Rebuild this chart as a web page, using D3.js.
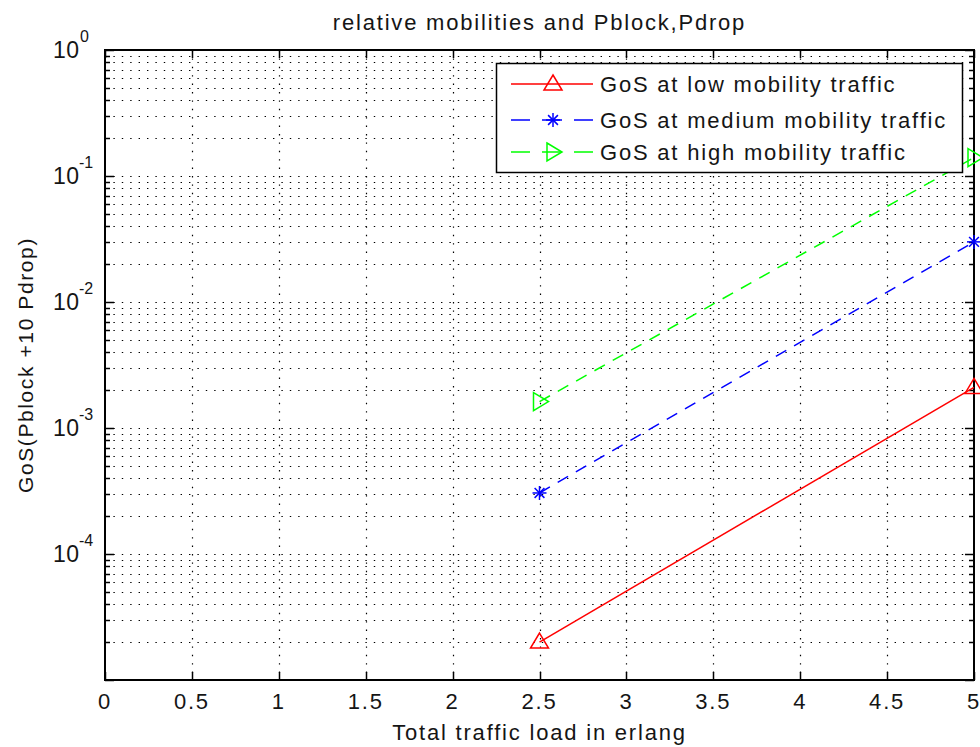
<!DOCTYPE html>
<html><head><meta charset="utf-8">
<script src="https://cdn.jsdelivr.net/npm/d3@7"></script>
<style>
body{margin:0;background:#fff;}
text{font-family:"Liberation Sans",Arial,sans-serif;fill:#151515;}
</style></head>
<body><svg id="c" width="980" height="747"></svg>
<script>
const xTicks = [0,0.5,1,1.5,2,2.5,3,3.5,4,4.5,5];
const xTickLabels = ["0","0.5","1","1.5","2","2.5","3","3.5","4","4.5","5"];
const yDecades = [-5,-4,-3,-2,-1,0];
const yTickLabels = ["","-4","-3","-2","-1","0"];
const load = [2.5, 5];
const lowMobility = [2e-5, 2.1e-3];
const mediumMobility = [3.05e-4, 3e-2];
const highMobility = [1.62e-3, 0.14];
const seriesNames = ["GoS at low mobility traffic","GoS at medium mobility traffic","GoS at high mobility traffic"];
const title = "relative mobilities and Pblock,Pdrop";
const xLabel = "Total traffic load in erlang";
const yLabel = "GoS(Pblock +10 Pdrop)";

const svg = d3.select("#c");
const L=105,R=974,T=50,B=680;
const x = d3.scaleLinear().domain([0,5]).range([L,R]);
const y = d3.scaleLog().domain([1e-5,1]).range([B,T]);
const LS = "1.8px";

const minor=[];
for(let d=-5; d<0; d++) for(let m=2;m<=9;m++) minor.push(m*Math.pow(10,d));
const majors = yDecades.map(d=>Math.pow(10,d));

const grid = svg.append("g").attr("stroke","#000").attr("stroke-width",1.2).attr("stroke-dasharray","1.4,7").attr("fill","none");
majors.concat(minor).forEach(v=>{
  if(v<=1e-5||v>=1) return;
  grid.append("line").attr("x1",L).attr("x2",R).attr("y1",Math.round(y(v))+0.5).attr("y2",Math.round(y(v))+0.5);
});
xTicks.forEach(v=>{
  if(v===0||v===5) return;
  grid.append("line").attr("x1",Math.round(x(v))+0.5).attr("x2",Math.round(x(v))+0.5).attr("y1",T).attr("y2",B);
});

const tk = svg.append("g").attr("stroke","#000").attr("stroke-width",1.5);
xTicks.forEach(v=>{
  const xx=Math.round(x(v))+0.5;
  tk.append("line").attr("x1",xx).attr("x2",xx).attr("y1",B).attr("y2",B-8);
  tk.append("line").attr("x1",xx).attr("x2",xx).attr("y1",T).attr("y2",T+8);
});
majors.forEach(v=>{
  const yy=Math.round(y(v))+0.5;
  tk.append("line").attr("x1",L).attr("x2",L+9).attr("y1",yy).attr("y2",yy);
  tk.append("line").attr("x1",R).attr("x2",R-9).attr("y1",yy).attr("y2",yy);
});
minor.forEach(v=>{
  const yy=Math.round(y(v))+0.5;
  tk.append("line").attr("x1",L).attr("x2",L+5).attr("y1",yy).attr("y2",yy);
  tk.append("line").attr("x1",R).attr("x2",R-5).attr("y1",yy).attr("y2",yy);
});

svg.append("rect").attr("x",L).attr("y",T).attr("width",R-L).attr("height",B-T).attr("fill","none").attr("stroke","#000").attr("stroke-width",2);

xTicks.forEach((v,i)=>{
  svg.append("text").attr("x",x(v)).attr("y",B+29).attr("text-anchor","middle").attr("font-size",22).attr("letter-spacing",LS).text(xTickLabels[i]);
});
yDecades.forEach((d,i)=>{
  if(!yTickLabels[i]) return;
  const yy=y(Math.pow(10,d));
  svg.append("text").attr("x",53).attr("y",yy+8).attr("font-size",23).attr("letter-spacing","0.5px").text("10");
  svg.append("text").attr("x",yTickLabels[i].length>1?79:80).attr("y",yy-8).attr("font-size",16).text(yTickLabels[i]);
});

svg.append("text").attr("x",(L+R)/2).attr("y",30).attr("text-anchor","middle").attr("font-size",22).attr("letter-spacing",LS).text(title);
svg.append("text").attr("x",(L+R)/2).attr("y",740).attr("text-anchor","middle").attr("font-size",22).attr("letter-spacing",LS).text(xLabel);
svg.append("text").attr("transform","translate(33,365) rotate(-90)").attr("text-anchor","middle").attr("font-size",21).attr("letter-spacing","1.6px").text(yLabel);

const series=[
  {vals:lowMobility,color:"#ff0000",dash:null,marker:"tri"},
  {vals:mediumMobility,color:"#0000ff",dash:"12,9",marker:"star"},
  {vals:highMobility,color:"#00ff00",dash:"12,9",marker:"tri-r"}
];
const line=d3.line().x(d=>x(d[0])).y(d=>y(d[1]));
function marker(g,cx,cy,type,color){
  if(type==="tri"){
    g.append("path").attr("d",`M${cx},${cy-9}L${cx+9},${cy+6}L${cx-9},${cy+6}Z`).attr("fill","none").attr("stroke",color).attr("stroke-width",1.5);
  }else if(type==="tri-r"){
    g.append("path").attr("d",`M${cx-6},${cy-9}L${cx+9},${cy}L${cx-6},${cy+9}Z`).attr("fill","none").attr("stroke",color).attr("stroke-width",1.5);
  }else{
    const r=7;
    [[r,0],[0,r],[r*0.7,r*0.7],[r*0.7,-r*0.7]].forEach(([a,b])=>{
      g.append("line").attr("x1",cx-a).attr("y1",cy-b).attr("x2",cx+a).attr("y2",cy+b).attr("stroke",color).attr("stroke-width",1.5);
    });
  }
}
const sg=svg.append("g");
series.forEach(s=>{
  const pts=load.map((v,i)=>[v,s.vals[i]]);
  sg.append("path").datum(pts).attr("d",line).attr("fill","none").attr("stroke",s.color).attr("stroke-width",1.5).attr("stroke-dasharray",s.dash);
  pts.forEach(p=>marker(sg,x(p[0]),y(p[1]),s.marker,s.color));
});

const lg=svg.append("g");
lg.append("rect").attr("x",496.5).attr("y",63.5).attr("width",466).attr("height",109).attr("fill","#fff").attr("stroke","#000").attr("stroke-width",1.5);
const rows=[84,120,152];
series.forEach((s,i)=>{
  lg.append("line").attr("x1",511).attr("x2",593).attr("y1",rows[i]).attr("y2",rows[i]).attr("stroke",s.color).attr("stroke-width",1.5).attr("stroke-dasharray",s.dash?"19,12,20,12,19":null);
  marker(lg,553,rows[i],s.marker,s.color);
  lg.append("text").attr("x",600).attr("y",rows[i]+8).attr("font-size",22).attr("letter-spacing",LS).text(seriesNames[i]);
});
</script></body></html>
